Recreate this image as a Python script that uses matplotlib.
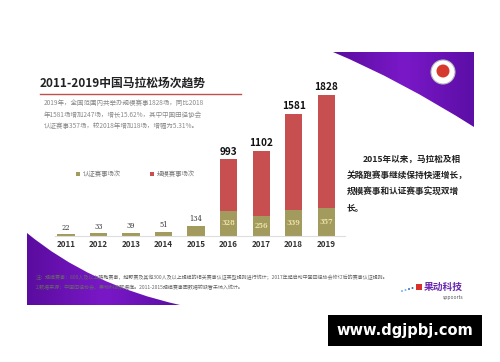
import numpy as np
import matplotlib
matplotlib.use("Agg")
import matplotlib.pyplot as plt
from matplotlib.path import Path
from matplotlib.patches import PathPatch, Rectangle, Circle
from matplotlib.colors import LinearSegmentedColormap

plt.rcParams['font.family'] = ['Noto Sans CJK SC', 'DejaVu Sans']

# data
years = ['2011', '2012', '2013', '2014', '2015', '2016', '2017', '2018', '2019']
certified = [22, 33, 39, 51, 134, 328, 256, 339, 357]
scale_total = [0, 0, 0, 0, 0, 993, 1102, 1581, 1828]
legend_labels = ['认证赛事场次', '规模赛事场次']

red = '#c84f50'
olive = '#a29b5d'
purple_cmap = LinearSegmentedColormap.from_list('pp', ['#5a0c9e', '#7a18c8', '#5c0ea6'])

fig = plt.figure(figsize=(5, 3.62), dpi=100)

# background / decoration layer in pixel coords
bg = fig.add_axes([0, 0, 1, 1], zorder=0)
bg.set_xlim(0, 500)
bg.set_ylim(362, 0)
bg.axis('off')


def purple_shape(verts, extent):
    codes = [Path.MOVETO, Path.LINETO, Path.LINETO, Path.CURVE3, Path.CURVE3, Path.CLOSEPOLY]
    patch = PathPatch(Path(verts, codes), facecolor='none', edgecolor='none')
    bg.add_patch(patch)
    grad = np.linspace(0, 1, 256).reshape(1, -1)
    im = bg.imshow(grad, cmap=purple_cmap, extent=extent, aspect='auto', zorder=1)
    im.set_clip_path(patch)


# top-right triangle
purple_shape([(333, 52), (474, 52), (474, 127), (400, 80), (333, 52), (333, 52)],
             (333, 474, 127, 52))
# bottom-left triangle
purple_shape([(27, 233), (27, 305), (180, 305), (90, 285), (27, 233), (27, 233)],
             (27, 180, 305, 233))

# badge on purple
bg.add_patch(Circle((443, 72), 12, facecolor='white', edgecolor='#bbbbbb', lw=0.8, zorder=3))
bg.add_patch(Circle((443, 71), 6.5, facecolor='#d63a2f', edgecolor='none', zorder=4))

# title and intro
bg.text(40, 83, '2011-2019中国马拉松场次趋势', fontsize=8.5, fontweight='bold',
        color='#222222', va='center', ha='left')
bg.plot([40, 241], [94, 94], color='#c0504d', lw=1.0)
intro = ['2019年，全国范围内共举办规模赛事1828场，同比2018',
         '年1581场增加247场，增长15.62%，其中中国田径协会',
         '认证赛事357场，较2018年增加18场，增幅为5.31%。']
for i, line in enumerate(intro):
    bg.text(44, 103 + 11.5 * i, line, fontsize=4.7, color='#8a8a8a', va='center')

# legend
bg.add_patch(Rectangle((76, 172), 4, 4, facecolor=olive, edgecolor='none'))
bg.text(83, 174, legend_labels[0], fontsize=4.6, color='#777777', va='center')
bg.add_patch(Rectangle((150, 172), 4, 4, facecolor=red, edgecolor='none'))
bg.text(157, 174, legend_labels[1], fontsize=4.6, color='#777777', va='center')

# right-side comment
comment = ['2015年以来，马拉松及相', '关路跑赛事继续保持快速增长，',
           '规模赛事和认证赛事实现双增', '长。']
bg.text(363, 159, comment[0], fontsize=6.2, fontweight='bold', color='#222222', va='center')
for i, line in enumerate(comment[1:]):
    bg.text(347, 176 + 16.5 * i, line, fontsize=6.2, fontweight='bold', color='#222222', va='center')

# footnotes
notes = ['注：规模赛事：800人及以上路跑赛事，越野赛及其他300人及以上规模的相关赛事认证类型规则进行统计；2017年起启动中国田径协会修订后的赛事认证规则。',
         '2.数据来源：中国田径协会、果动科技数据库。2011-2015规模赛事因数据较缺暂未纳入统计。']
bg.text(36, 277, notes[0], fontsize=3.6, color='#666666', va='center', zorder=5)
bg.text(36, 288, notes[1], fontsize=3.6, color='#666666', va='center', zorder=5)

# logo
for k, c in enumerate(['#7ab8e8', '#7ab8e8', '#3a6fc0', '#3a6fc0']):
    bg.add_patch(Circle((402 + 3.5 * k, 291 - k), 1.0, facecolor=c, edgecolor='none'))
bg.add_patch(Rectangle((416, 284), 6, 6, facecolor='#d8302a', edgecolor='none'))
bg.text(424, 287, '果动科技', fontsize=7, fontstyle='italic', fontweight='bold',
        color='#6a2ab0', va='center')
bg.text(464, 297, 'sppoorts', fontsize=3.6, fontstyle='italic', color='#555555',
        va='center', ha='right')

# watermark
bg.add_patch(Rectangle((328, 315), 154, 31, facecolor='black', edgecolor='none', zorder=6))
bg.text(405, 330.5, 'www.dgjpbj.com', fontsize=10.5, fontweight='bold', color='white',
        family='DejaVu Sans', ha='center', va='center', zorder=7)

# chart
ax = fig.add_axes([55 / 500, (362 - 236) / 362, 290 / 500, 154.2 / 362], zorder=2)
ax.patch.set_alpha(0)
x = np.arange(len(years))
red_part = [t - c if t else 0 for t, c in zip(scale_total, certified)]
ax.bar(x, certified, width=0.53, color=olive, zorder=2)
ax.bar(x, red_part, width=0.53, bottom=certified, color=red, zorder=2)
ax.set_xlim(-0.34, 8.58)
ax.set_ylim(0, 2000)
for s in ['top', 'right', 'left']:
    ax.spines[s].set_visible(False)
ax.spines['bottom'].set_color('#dddddd')
ax.spines['bottom'].set_linewidth(0.8)
ax.set_yticks([])
ax.set_xticks(x)
ax.set_xticklabels(years, fontsize=5.8, fontweight='bold', color='#333333')
ax.tick_params(axis='x', length=0, pad=3)

for i in range(len(years)):
    if scale_total[i]:
        ax.annotate(str(scale_total[i]), (x[i], scale_total[i]), xytext=(0, 2),
                    textcoords='offset points', ha='center', va='bottom',
                    fontsize=7.2, fontweight='bold', color='#111111')
        ax.text(x[i], certified[i] / 2, str(certified[i]), ha='center', va='center',
                fontsize=4.8, family='DejaVu Serif', fontweight='bold', color='#eadfa6')
    else:
        ax.annotate(str(certified[i]), (x[i], certified[i]), xytext=(0, 2),
                    textcoords='offset points', ha='center', va='bottom',
                    fontsize=4.8, family='DejaVu Serif', color='#333333')

fig.savefig('out.png', dpi=100)
